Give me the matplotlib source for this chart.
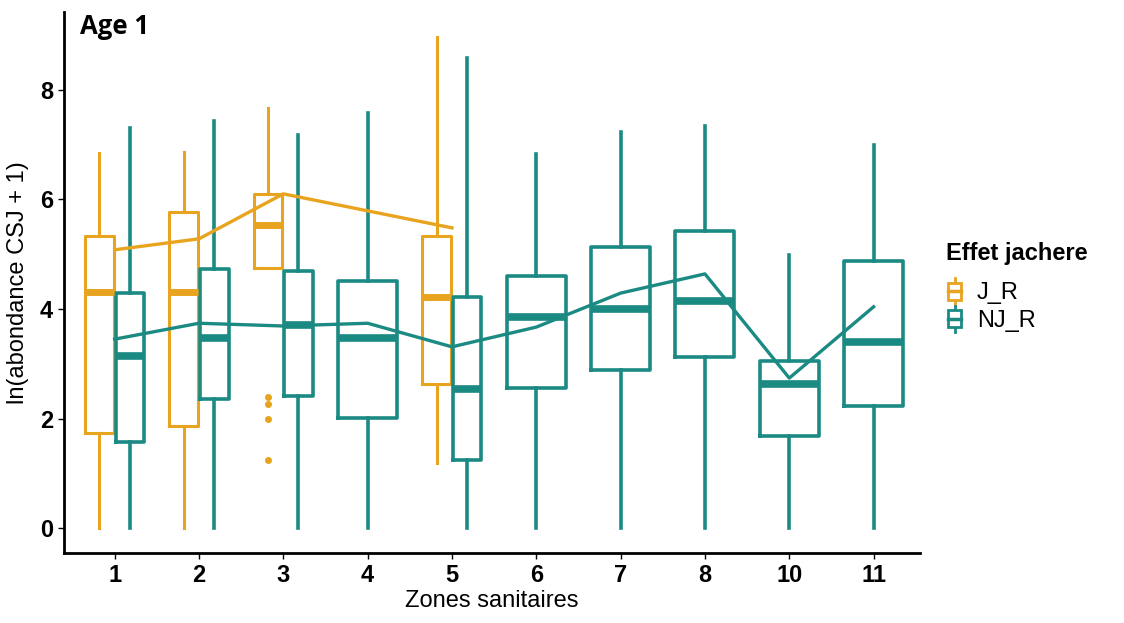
import matplotlib
matplotlib.use('Agg')
import matplotlib.pyplot as plt
from matplotlib.legend_handler import HandlerBase
from matplotlib.patches import Rectangle, Patch
from matplotlib.lines import Line2D

zones = ['1', '2', '3', '4', '5', '6', '7', '8', '10', '11']

# J_R (orange) present in zones 1, 2, 3, 5
jr_zones = ['1', '2', '3', '5']
jr_low = [0.0, 0.0, 4.75, 1.19]
jr_q1 = [1.74, 1.86, 4.75, 2.63]
jr_med = [4.31, 4.31, 5.53, 4.22]
jr_q3 = [5.33, 5.77, 6.10, 5.33]
jr_high = [6.85, 6.87, 7.67, 8.97]
jr_mean = [5.08, 5.28, 6.10, 5.48]
jr_fliers = [[], [], [2.39, 2.26, 2.0, 1.24], []]

# NJ_R (teal) present in every zone
nj_low = [0.0, 0.0, 0.0, 0.0, 0.0, 0.0, 0.0, 0.0, 0.0, 0.0]
nj_q1 = [1.57, 2.36, 2.41, 2.01, 1.24, 2.56, 2.89, 3.12, 1.68, 2.23]
nj_med = [3.14, 3.47, 3.71, 3.47, 2.54, 3.85, 4.00, 4.15, 2.63, 3.40]
nj_q3 = [4.29, 4.73, 4.70, 4.51, 4.22, 4.60, 5.13, 5.43, 3.05, 4.88]
nj_high = [7.30, 7.43, 7.18, 7.58, 8.58, 6.83, 7.22, 7.34, 4.99, 7.00]
nj_mean = [3.45, 3.74, 3.69, 3.74, 3.31, 3.67, 4.29, 4.64, 2.74, 4.04]

orange = '#E8A41F'
teal = '#1B8A83'

fig = plt.figure(figsize=(11.24, 6.23), dpi=100)
ax = fig.add_axes([0.057, 0.1124, 0.7615, 0.8686])

xpos = {z: i for i, z in enumerate(zones)}


def stats(lo, q1, med, q3, hi, fl):
    return [dict(whislo=a, q1=b, med=c, q3=d, whishi=e, fliers=f)
            for a, b, c, d, e, f in zip(lo, q1, med, q3, hi, fl)]


# orange boxes, dodged left
jr_pos = [xpos[z] - 0.18 for z in jr_zones]
ax.bxp(stats(jr_low, jr_q1, jr_med, jr_q3, jr_high, jr_fliers), positions=jr_pos,
       widths=0.34, showcaps=False,
       boxprops=dict(color=orange, linewidth=2.2),
       whiskerprops=dict(color=orange, linewidth=2.2),
       medianprops=dict(color=orange, linewidth=5, solid_capstyle='butt'),
       flierprops=dict(marker='o', markersize=4, markerfacecolor=orange,
                       markeredgecolor=orange))

# teal boxes, dodged right where orange exists
nj_pos = []
nj_w = []
for z in zones:
    if z in jr_zones:
        nj_pos.append(xpos[z] + 0.18)
        nj_w.append(0.34)
    else:
        nj_pos.append(xpos[z])
        nj_w.append(0.70)
ax.bxp(stats(nj_low, nj_q1, nj_med, nj_q3, nj_high, [[]] * len(zones)),
       positions=nj_pos, widths=nj_w, showcaps=False,
       boxprops=dict(color=teal, linewidth=2.6),
       whiskerprops=dict(color=teal, linewidth=2.6),
       medianprops=dict(color=teal, linewidth=5.5, solid_capstyle='butt'))

# mean lines
ax.plot([xpos[z] for z in jr_zones], jr_mean, color=orange, linewidth=2.4)
ax.plot(range(len(zones)), nj_mean, color=teal, linewidth=2.4)

ax.set_xlim(-0.6, len(zones) - 0.45)
ax.set_ylim(-0.45, 9.42)
ax.set_xticks(range(len(zones)))
ax.set_xticklabels(zones)
ax.set_yticks([0, 2, 4, 6, 8])
for s in ['top', 'right']:
    ax.spines[s].set_visible(False)
for s in ['left', 'bottom']:
    ax.spines[s].set_linewidth(2)
ax.tick_params(axis='both', length=4, width=1, labelsize=17, pad=4)
for lab in ax.get_xticklabels() + ax.get_yticklabels():
    lab.set_fontweight('bold')
    lab.set_fontfamily('Liberation Sans')
ax.set_xlabel('Zones sanitaires', fontsize=17, family='Liberation Sans', labelpad=2)
ax.set_ylabel('ln(abondance CSJ + 1)', fontsize=17, family='Liberation Sans', labelpad=8)

fig.text(0.071, 0.958, 'Age 1', fontsize=18.5, fontweight='bold', family='Open Sans',
         va='center', ha='left')


class BoxHandler(HandlerBase):
    def create_artists(self, legend, orig_handle, xdescent, ydescent, width, height,
                       fontsize, trans):
        c = orig_handle.get_edgecolor()
        cx = width / 2 - xdescent
        bw = width * 0.8
        bh = height * 0.7
        y0 = -ydescent + (height - bh) / 2
        rect = Rectangle((cx - bw / 2, y0), bw, bh, facecolor='white', edgecolor=c,
                         linewidth=2, transform=trans)
        med = Line2D([cx - bw / 2, cx + bw / 2], [y0 + bh / 2, y0 + bh / 2],
                     color=c, linewidth=2.5, transform=trans)
        w1 = Line2D([cx, cx], [y0 - height * 0.2, y0], color=c, linewidth=2, transform=trans)
        w2 = Line2D([cx, cx], [y0 + bh, y0 + bh + height * 0.2], color=c, linewidth=2,
                    transform=trans)
        return [w1, w2, rect, med]


handles = [Patch(edgecolor=orange, facecolor='white'), Patch(edgecolor=teal, facecolor='white')]
leg = fig.legend(handles, ['J_R', 'NJ_R'], loc='upper left', bbox_to_anchor=(0.823, 0.645),
                 frameon=False, handler_map={Patch: BoxHandler()}, handlelength=0.7,
                 handleheight=1.2, handletextpad=0.6, labelspacing=0.1,
                 prop=dict(family='Liberation Sans', size=17),
                 title='Effet jachere', alignment='left',
                 title_fontproperties=dict(family='Liberation Sans', size=17, weight='bold'))
leg._legend_box.sep = 10

fig.savefig('out.png', dpi=100)
